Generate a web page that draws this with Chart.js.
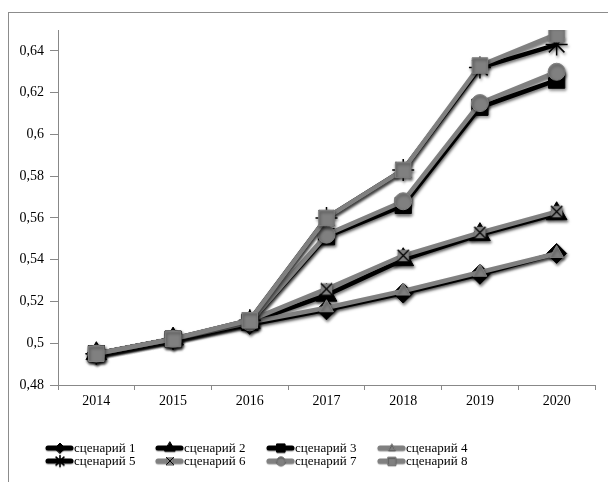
<!DOCTYPE html>
<html>
<head>
<meta charset="utf-8">
<script src="https://cdn.jsdelivr.net/npm/chart.js@4"></script>
<style>
  body { margin: 0; background: #fff; }
  #wrap { position: relative; width: 608px; height: 482px; overflow: hidden; }
  #frame {
    position: absolute; left: 8px; top: 12px; width: 700px; height: 600px;
    border-top: 1px solid #8c8c8c; border-left: 1px solid #8c8c8c;
  }
  #c { position: absolute; left: 0; top: 0; }
</style>
</head>
<body>
<div id="wrap">
  <div id="frame"></div>
  <canvas id="c" width="608" height="482"></canvas>
</div>
<script>
// years on the x axis
var years = ["2014", "2015", "2016", "2017", "2018", "2019", "2020"];

// one list per scenario
var scen1 = [0.495, 0.502, 0.509, 0.516, 0.524, 0.533, 0.543];
var scen2 = [0.495, 0.502, 0.510, 0.523, 0.540, 0.552, 0.562];
var scen3 = [0.495, 0.502, 0.510, 0.551, 0.566, 0.613, 0.626];
var scen4 = [0.495, 0.502, 0.510, 0.517, 0.525, 0.534, 0.543];
var scen5 = [0.495, 0.502, 0.511, 0.560, 0.583, 0.632, 0.643];
var scen6 = [0.495, 0.502, 0.511, 0.526, 0.542, 0.553, 0.563];
var scen7 = [0.495, 0.502, 0.510, 0.552, 0.568, 0.615, 0.630];
var scen8 = [0.495, 0.502, 0.511, 0.560, 0.583, 0.633, 0.648];

var seriesNames = ["сценарий 1", "сценарий 2", "сценарий 3", "сценарий 4",
                   "сценарий 5", "сценарий 6", "сценарий 7", "сценарий 8"];

// y axis range and step
var yMin = 0.48, yMax = 0.65, yStep = 0.02;

var BLACK = "#000000";
var GRAY = "#808080";
var FONT = "'Liberation Serif', 'DejaVu Serif', serif";

// gray box with a black X on it
function xMarker(size) {
  var cv = document.createElement("canvas");
  cv.width = size;
  cv.height = size;
  var g = cv.getContext("2d");
  var p = size * 0.12;
  g.fillStyle = GRAY;
  g.fillRect(p, p, size - 2 * p, size - 2 * p);
  g.strokeStyle = BLACK;
  g.lineWidth = Math.max(1, size / 12);
  g.beginPath();
  g.moveTo(p, p); g.lineTo(size - p, size - p);
  g.moveTo(size - p, p); g.lineTo(p, size - p);
  g.stroke();
  return cv;
}
var xBig = xMarker(15);
var xSmall = xMarker(10);

function series(i, values, lineColor, markColor, style, radius, bw) {
  return {
    label: seriesNames[i],
    data: values,
    borderColor: lineColor,
    borderWidth: 4.5,
    backgroundColor: markColor,
    pointStyle: style,
    pointRadius: radius,
    pointBackgroundColor: markColor,
    pointBorderColor: markColor,
    pointBorderWidth: bw,
    tension: 0,
    order: 7 - i // later series are drawn on top
  };
}

var datasets = [
  series(0, scen1, BLACK, BLACK, "rectRot", 10, 1),
  series(1, scen2, BLACK, BLACK, "triangle", 12, 1),
  series(2, scen3, BLACK, BLACK, "rect", 11.5, 1),
  series(3, scen4, GRAY, GRAY, "triangle", 8, 1),
  series(4, scen5, BLACK, BLACK, "star", 11, 1.5),
  series(5, scen6, GRAY, BLACK, xBig, 8, 1),
  series(6, scen7, GRAY, GRAY, "circle", 8.5, 1),
  series(7, scen8, GRAY, GRAY, "rect", 11, 1)
];

// soft drop shadow under each series
var shadowPlugin = {
  id: "shadow",
  beforeDatasetDraw: function (chart) {
    var ctx = chart.ctx;
    ctx.save();
    ctx.shadowColor = "rgba(0,0,0,0.55)";
    ctx.shadowBlur = 3;
    ctx.shadowOffsetX = 1;
    ctx.shadowOffsetY = 2;
  },
  afterDatasetDraw: function (chart) {
    chart.ctx.restore();
  }
};

// two-row legend under the plot, line segment with marker
var legendPlugin = {
  id: "lineLegend",
  afterDraw: function (chart) {
    var ctx = chart.ctx;
    var colX = [46, 156, 267, 378];
    var rowY = [448, 461];
    ctx.save();
    datasets.forEach(function (ds, i) {
      var x = colX[i % 4], y = rowY[Math.floor(i / 4)];
      ctx.shadowColor = "rgba(0,0,0,0.4)";
      ctx.shadowBlur = 1;
      ctx.shadowOffsetY = 1;
      ctx.strokeStyle = ds.borderColor;
      ctx.lineWidth = 5;
      ctx.lineCap = "round";
      ctx.beginPath();
      ctx.moveTo(x + 2, y);
      ctx.lineTo(x + 25, y);
      ctx.stroke();
      ctx.fillStyle = ds.pointBackgroundColor;
      ctx.strokeStyle = ds.pointBorderColor;
      ctx.lineWidth = ds.pointBorderWidth;
      Chart.helpers.drawPoint(ctx, {
        pointStyle: ds.pointStyle === xBig ? xSmall : ds.pointStyle,
        radius: ds.pointRadius * 0.5,
        rotation: 0,
        borderWidth: ds.pointBorderWidth
      }, x + 14, y);
      ctx.shadowColor = "transparent";
      ctx.fillStyle = "#000";
      ctx.font = "13px " + FONT;
      ctx.textBaseline = "middle";
      ctx.textAlign = "left";
      ctx.fillText(ds.label, x + 28, y + 1);
    });
    ctx.restore();
  }
};

new Chart(document.getElementById("c"), {
  type: "line",
  data: { labels: years, datasets: datasets },
  plugins: [shadowPlugin, legendPlugin],
  options: {
    responsive: false,
    animation: false,
    devicePixelRatio: 1,
    layout: { padding: { left: 0, top: 30, right: 11, bottom: 0 } },
    plugins: { legend: { display: false }, tooltip: { enabled: false } },
    scales: {
      x: {
        offset: true,
        grid: { offset: true, drawOnChartArea: false, drawTicks: true, tickLength: 5, color: "#888" },
        border: { display: true, color: "#888" },
        ticks: { color: "#000", font: { family: FONT, size: 14 }, padding: 3, maxRotation: 0 },
        afterFit: function (s) { s.height = 97; }
      },
      y: {
        min: yMin,
        max: yMax,
        grid: { drawOnChartArea: false, drawTicks: true, tickLength: 8, color: "#888" },
        border: { display: true, color: "#888" },
        ticks: {
          stepSize: yStep,
          includeBounds: false,
          color: "#000",
          font: { family: FONT, size: 14 },
          padding: 6,
          callback: function (v) {
            return String(Math.round(v * 100) / 100).replace(".", ",");
          }
        },
        afterFit: function (s) { s.width = 58; }
      }
    }
  }
});
</script>
</body>
</html>
